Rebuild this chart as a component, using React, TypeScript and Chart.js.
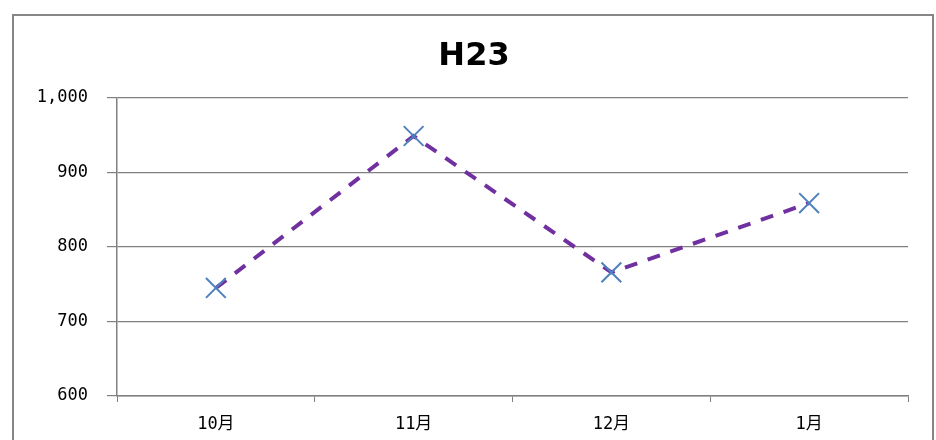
import React, { useEffect, useRef } from "react";
import { Chart, registerables } from "chart.js";

Chart.register(...registerables);

const categories = ["10月", "11月", "12月", "1月"];
const values = [745, 949, 766, 859];
const yTicks = [600, 700, 800, 900, 1000];
const titleText = "H23";

const framePlugin = {
  id: "frame",
  beforeDraw(chart: any) {
    const ctx = chart.ctx;
    ctx.save();
    ctx.fillStyle = "#ffffff";
    ctx.fillRect(0, 0, chart.width, chart.height);
    ctx.strokeStyle = "#868686";
    ctx.lineWidth = 2;
    ctx.beginPath();
    ctx.moveTo(13, chart.height + 5);
    ctx.lineTo(13, 15);
    ctx.lineTo(933, 15);
    ctx.lineTo(933, chart.height + 5);
    ctx.stroke();
    ctx.fillStyle = "#000000";
    ctx.font = "bold 32px 'DejaVu Sans'";
    ctx.textAlign = "center";
    ctx.textBaseline = "alphabetic";
    ctx.fillText(titleText, 474, 65);
    ctx.restore();
  },
};

export default function App() {
  const ref = useRef<HTMLCanvasElement>(null);
  useEffect(() => {
    document.body.style.margin = "0";
    const chart = new Chart(ref.current!, {
      type: "line",
      data: {
        labels: categories,
        datasets: [
          {
            data: values,
            borderColor: "#7030A0",
            borderWidth: 4,
            borderDash: [13, 11],
            pointStyle: "cross",
            rotation: 45,
            pointRadius: 14,
            pointBorderWidth: 2,
            pointBorderColor: "#4F81BD",
            pointBackgroundColor: "#4F81BD",
            fill: false,
            tension: 0,
          } as any,
        ],
      },
      options: {
        animation: false,
        responsive: false,
        devicePixelRatio: 1,
        layout: { padding: { top: 98, right: 28, bottom: 0, left: 0 } },
        plugins: {
          legend: { display: false },
          title: { display: false },
          tooltip: { enabled: false },
        },
        scales: {
          x: {
            type: "category",
            offset: true,
            grid: {
              offset: true,
              drawOnChartArea: false,
              drawTicks: true,
              tickLength: 6,
              color: "#808080",
            },
            border: { color: "#808080", width: 1.5 },
            ticks: {
              padding: 12,
              color: "#000000",
              font: { family: "'DejaVu Sans Mono', 'Noto Sans CJK JP'", size: 17 },
            },
            afterFit(scale: any) {
              scale.height = 44;
            },
          },
          y: {
            min: 600,
            max: 1000,
            afterBuildTicks(scale: any) {
              scale.ticks = yTicks.map((v) => ({ value: v }));
            },
            grid: {
              color: "#808080",
              lineWidth: 1.2,
              tickLength: 10,
              drawTicks: true,
            },
            border: { color: "#808080", width: 1.5 },
            ticks: {
              padding: 19,
              color: "#000000",
              font: { family: "'DejaVu Sans Mono'", size: 17 },
              callback: (v: any) => Number(v).toLocaleString("en-US"),
            },
            afterFit(scale: any) {
              scale.width = 117;
            },
          },
        },
      },
      plugins: [framePlugin],
    });
    return () => chart.destroy();
  }, []);
  return (
    <div style={{ position: "absolute", left: 0, top: 0, width: 936, height: 440 }}>
      <canvas ref={ref} width={936} height={440} style={{ display: "block" }} />
    </div>
  );
}
